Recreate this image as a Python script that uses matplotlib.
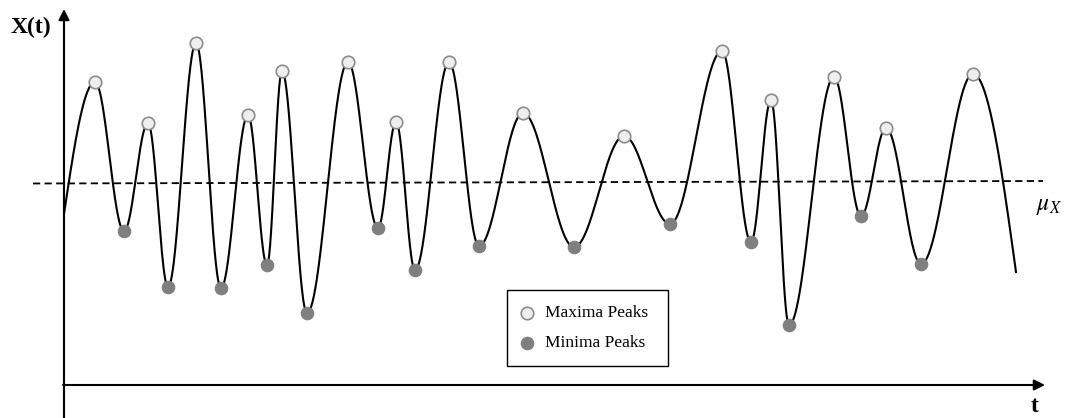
import numpy as np
import matplotlib
matplotlib.use("Agg")
import matplotlib.pyplot as plt
from matplotlib.patches import Rectangle

plt.rcParams["mathtext.fontset"] = "stix"

# ---- data (pixel-like units, y grows downward) ----
t_max = [95, 148, 196, 248, 282, 348, 396, 449, 523, 624, 722, 771, 834, 886, 973]
x_max = [82, 123, 43, 115, 71, 62, 122, 62, 113, 136, 51, 100, 77, 128, 74]
t_min = [124, 168, 221, 267, 307, 378, 415, 479, 574, 670, 751, 789, 861, 921]
x_min = [231, 287, 288, 265, 313, 228, 270, 246, 247, 224, 242, 325, 216, 264]
t_start, x_start = 64, 214
t_end, x_end = 1016, 272
mean_t = [33, 1043]
mean_x = [183.5, 181]
legend_labels = ["Maxima Peaks", "Minima Peaks"]

W, H = 1066, 418
fig = plt.figure(figsize=(W / 100, H / 100), dpi=100)
ax = fig.add_axes([0, 0, 1, 1])
ax.set_xlim(0, W)
ax.set_ylim(H, 0)
ax.axis("off")

# build the smooth curve through the extrema
ext = sorted([(t, x) for t, x in zip(t_max, x_max)] + [(t, x) for t, x in zip(t_min, x_min)])
ts, xs = [], []
s = np.linspace(0, 1, 60)
t0, x0 = ext[0]
ts.append(t_start + (t0 - t_start) * s)
xs.append(x_start + (x0 - x_start) * np.sin(np.pi / 2 * s))
for (ta, xa), (tb, xb) in zip(ext[:-1], ext[1:]):
    ts.append(ta + (tb - ta) * s)
    xs.append(xa + (xb - xa) * (1 - np.cos(np.pi * s)) / 2)
tl, xl = ext[-1]
ts.append(tl + (t_end - tl) * s)
xs.append(xl + (x_end - xl) * (1 - np.cos(np.pi / 2 * s)))
ax.plot(np.concatenate(ts), np.concatenate(xs), color="black", lw=1.5, zorder=2)

# mean line
ax.plot(mean_t, mean_x, color="black", lw=1.3, ls=(0, (4, 2.4)), zorder=1)

# peaks
max_style = dict(ls="none", marker="o", ms=9, mfc="#eeeeee", mec="#8c8c8c", mew=1.2)
min_style = dict(ls="none", marker="o", ms=9, mfc="#7f7f7f", mec="#7f7f7f", mew=0.8)
ax.plot(t_max, x_max, zorder=3, **max_style)
ax.plot(t_min, x_min, zorder=3, **min_style)

# axes arrows
ax.annotate("", xy=(1045, 385), xytext=(63, 385),
            arrowprops=dict(arrowstyle="-|>", color="black", lw=1.5, mutation_scale=16,
                            shrinkA=0, shrinkB=0))
ax.annotate("", xy=(64, 9), xytext=(64, H + 2),
            arrowprops=dict(arrowstyle="-|>", color="black", lw=1.5, mutation_scale=16,
                            shrinkA=0, shrinkB=0))

serif = "Liberation Serif"
ax.text(31, 27, "X(t)", fontfamily=serif, fontweight="bold", fontsize=17,
        ha="center", va="center")
ax.text(1035, 406, "t", fontfamily=serif, fontweight="bold", fontsize=17,
        ha="center", va="center")
ax.text(1049, 205, r"$\mu_X$", fontsize=17, ha="center", va="center")

# legend box (drawn by hand to match the reference layout)
ax.add_patch(Rectangle((507, 290), 161, 76, facecolor="white", edgecolor="black",
                       lw=1.0, zorder=4))
for (y, style, lab) in zip([313, 343], [max_style, min_style], legend_labels):
    ax.plot([527], [y], zorder=5, **style)
    ax.text(545, y, lab, fontfamily=serif, fontsize=12.5, ha="left", va="center",
            zorder=5)

fig.savefig("out.png", dpi=100)
